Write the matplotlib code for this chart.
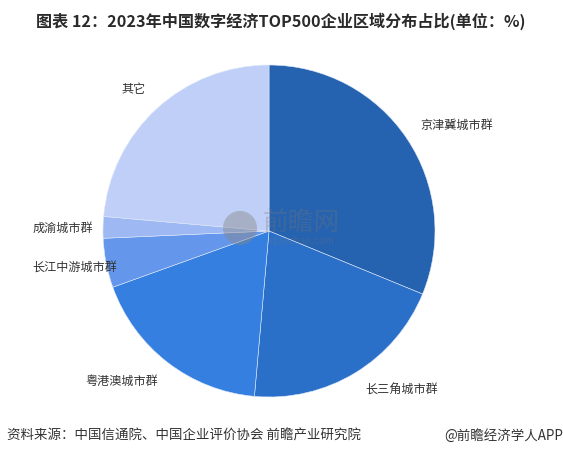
import matplotlib
matplotlib.use("Agg")
import matplotlib.pyplot as plt

plt.rcParams['font.family'] = ['Noto Sans CJK SC', 'DejaVu Sans']

regions = ['京津冀城市群', '长三角城市群', '粤港澳城市群', '长江中游城市群', '成渝城市群', '其它']
shares = [31.2, 20.2, 18.1, 4.8, 2.1, 23.6]
colors = ['#2562b0', '#2b70c8', '#347fe0', '#6496ec', '#9db8f2', '#bfcff7']

title = '图表 12：2023年中国数字经济TOP500企业区域分布占比(单位：%)'
source = '资料来源：中国信通院、中国企业评价协会 前瞻产业研究院'
credit = '@前瞻经济学人APP'

W, H = 563, 457

# where each label sits, in picture pixels
label_spots = [(420, 125, 'left'), (365, 390, 'left'), (158, 381, 'right'),
               (117, 267, 'right'), (93, 228, 'right'), (146, 90, 'right')]

fig = plt.figure(figsize=(W / 100, H / 100), dpi=100)
ax = fig.add_axes([0, 0, 1, 1])

wedges, texts = ax.pie(
    shares,
    labels=regions,
    colors=colors,
    startangle=90,
    counterclock=False,
    center=(269, H - 231),
    radius=166,
    wedgeprops={'edgecolor': '#dfe8fa', 'linewidth': 0.4},
    textprops={'fontsize': 8.7, 'color': '#333333'},
)
ax.set_xlim(0, W)
ax.set_ylim(0, H)
ax.set_aspect('equal')
ax.axis('off')

for t, (x, y, ha) in zip(texts, label_spots):
    t.set_position((x, H - y))
    t.set_ha(ha)
    t.set_va('center')

# watermark
ax.add_patch(plt.Circle((240, H - 228), 17, color='#888888', alpha=0.45, zorder=5, lw=0))
ax.text(301, H - 223, '前瞻网', fontsize=18.5, color='#777777', alpha=0.3,
        ha='center', va='center', zorder=5)
ax.text(302, H - 241, 'qianzhan.com', fontsize=7, color='#777777', alpha=0.3,
        ha='center', va='center', zorder=5)

ax.text(281, H - 21, title, fontsize=11.6, fontweight='bold', color='#2a2a2a',
        ha='center', va='center')
ax.text(7, H - 436, source, fontsize=9.7, color='#333333', ha='left', va='center')
ax.text(563, H - 436, credit, fontsize=9.7, color='#333333', ha='right', va='center')

fig.savefig('out.png', dpi=100)
